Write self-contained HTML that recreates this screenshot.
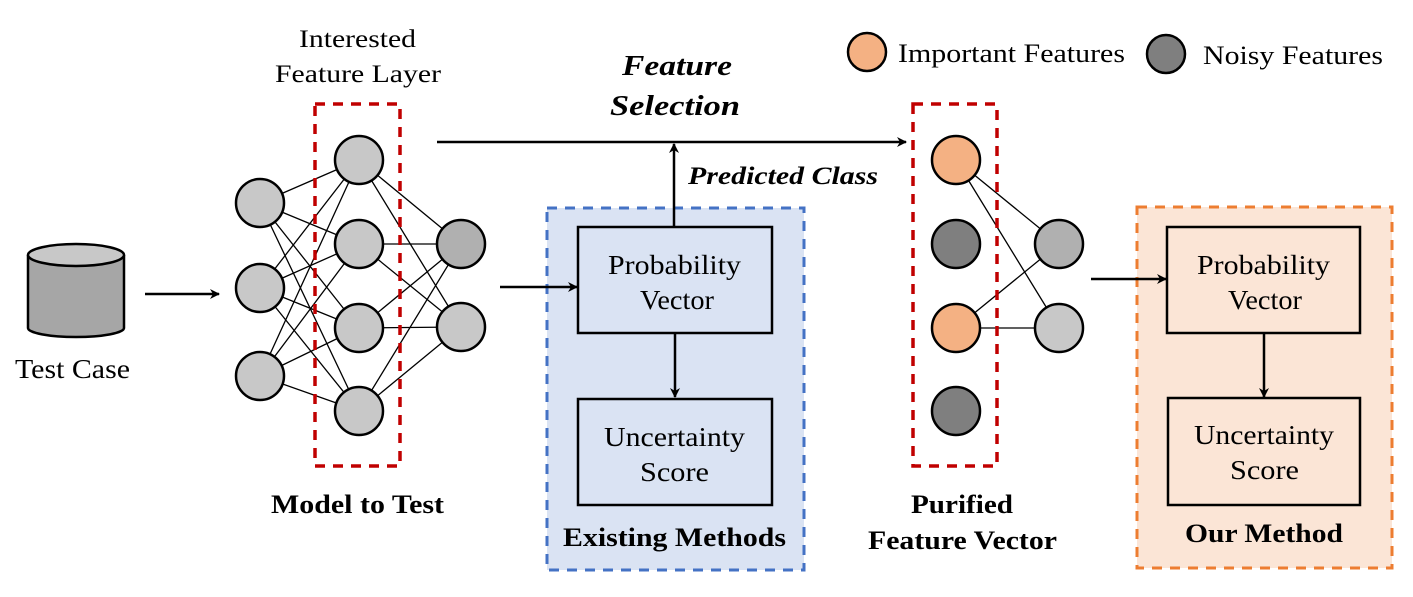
<!DOCTYPE html>
<html><head><meta charset="utf-8"><style>
html,body{margin:0;padding:0;background:#fff;}
svg{display:block;}
text{font-family:"Liberation Serif",serif;fill:#000;}
</style></head><body>
<svg width="1413" height="597" viewBox="0 0 1413 597" xmlns="http://www.w3.org/2000/svg">
<defs>
<marker id="ah" viewBox="0 0 10 10" refX="9" refY="5" markerWidth="10" markerHeight="10" markerUnits="userSpaceOnUse" orient="auto">
<path d="M0,0 L10,5 L0,10 L3,5 Z" fill="#000"/></marker>
</defs>
<!-- cylinder -->
<path d="M28,255 L28,328 A48,9 0 0 0 124,328 L124,255" fill="#a6a6a6" stroke="#000" stroke-width="2.5"/>
<ellipse cx="76" cy="255" rx="48" ry="11" fill="#c8c8c8" stroke="#000" stroke-width="2.5"/>
<text x="15" y="378" font-size="27" textLength="115" lengthAdjust="spacingAndGlyphs">Test Case</text>
<line x1="145" y1="294" x2="219" y2="294" stroke="#000" stroke-width="2.5" marker-end="url(#ah)"/>

<!-- network lines -->
<g stroke="#000" stroke-width="1.3">
<line x1="260" y1="203" x2="359" y2="160"/><line x1="260" y1="203" x2="359" y2="244"/><line x1="260" y1="203" x2="359" y2="328"/><line x1="260" y1="203" x2="359" y2="411"/>
<line x1="260" y1="288" x2="359" y2="160"/><line x1="260" y1="288" x2="359" y2="244"/><line x1="260" y1="288" x2="359" y2="328"/><line x1="260" y1="288" x2="359" y2="411"/>
<line x1="260" y1="376" x2="359" y2="160"/><line x1="260" y1="376" x2="359" y2="244"/><line x1="260" y1="376" x2="359" y2="328"/><line x1="260" y1="376" x2="359" y2="411"/>
<line x1="359" y1="160" x2="461" y2="244"/><line x1="359" y1="160" x2="461" y2="327"/>
<line x1="359" y1="244" x2="461" y2="244"/><line x1="359" y1="244" x2="461" y2="327"/>
<line x1="359" y1="328" x2="461" y2="244"/><line x1="359" y1="328" x2="461" y2="327"/>
<line x1="359" y1="411" x2="461" y2="244"/><line x1="359" y1="411" x2="461" y2="327"/>
</g>
<rect x="315" y="104" width="85" height="362" fill="none" stroke="#c00000" stroke-width="3.5" stroke-dasharray="10,8"/>
<g stroke="#000" stroke-width="2.5" fill="#c8c8c8">
<circle cx="260" cy="203" r="24"/><circle cx="260" cy="288" r="24"/><circle cx="260" cy="376" r="24"/>
<circle cx="359" cy="160" r="24"/><circle cx="359" cy="244" r="24"/><circle cx="359" cy="328" r="24"/><circle cx="359" cy="411" r="24"/>
<circle cx="461" cy="244" r="24" fill="#b0b0b0"/><circle cx="461" cy="327" r="24"/>
</g>
<text x="299" y="47" font-size="25" textLength="117" lengthAdjust="spacingAndGlyphs">Interested</text>
<text x="275" y="82" font-size="25" textLength="166" lengthAdjust="spacingAndGlyphs">Feature Layer</text>
<text x="271" y="513" font-size="26" font-weight="bold" textLength="173" lengthAdjust="spacingAndGlyphs">Model to Test</text>

<!-- top arrow -->
<line x1="437" y1="142" x2="906" y2="142" stroke="#000" stroke-width="2.5" marker-end="url(#ah)"/>
<text x="622" y="75" font-size="29" font-weight="bold" font-style="italic" textLength="110" lengthAdjust="spacingAndGlyphs">Feature</text>
<text x="610" y="115" font-size="29" font-weight="bold" font-style="italic" textLength="130" lengthAdjust="spacingAndGlyphs">Selection</text>
<text x="688" y="184" font-size="25" font-weight="bold" font-style="italic" textLength="190" lengthAdjust="spacingAndGlyphs">Predicted Class</text>

<!-- existing methods -->
<rect x="547" y="208" width="257" height="362" fill="#dae3f3" stroke="#4472c4" stroke-width="3" stroke-dasharray="10,8"/>
<line x1="500" y1="287" x2="577" y2="287" stroke="#000" stroke-width="2.5" marker-end="url(#ah)"/>
<line x1="674" y1="227" x2="674" y2="144" stroke="#000" stroke-width="2.5" marker-end="url(#ah)"/>
<rect x="578" y="227" width="194" height="106" fill="#dae3f3" stroke="#000" stroke-width="2.5"/>
<text x="608" y="274" font-size="27" textLength="133" lengthAdjust="spacingAndGlyphs">Probability</text>
<text x="640" y="309" font-size="27" textLength="74" lengthAdjust="spacingAndGlyphs">Vector</text>
<line x1="675" y1="333" x2="675" y2="397" stroke="#000" stroke-width="2.5" marker-end="url(#ah)"/>
<rect x="578" y="399" width="194" height="106" fill="#dae3f3" stroke="#000" stroke-width="2.5"/>
<text x="604" y="446" font-size="27" textLength="141" lengthAdjust="spacingAndGlyphs">Uncertainty</text>
<text x="640" y="481" font-size="27" textLength="69" lengthAdjust="spacingAndGlyphs">Score</text>
<text x="563" y="546" font-size="26" font-weight="bold" textLength="223" lengthAdjust="spacingAndGlyphs">Existing Methods</text>

<!-- purified -->
<g stroke="#000" stroke-width="1.3">
<line x1="956" y1="160" x2="1059" y2="244"/><line x1="956" y1="160" x2="1059" y2="328"/>
<line x1="956" y1="328" x2="1059" y2="244"/><line x1="956" y1="328" x2="1059" y2="328"/>
</g>
<rect x="913" y="104" width="84" height="362" fill="none" stroke="#c00000" stroke-width="3.5" stroke-dasharray="10,8"/>
<g stroke="#000" stroke-width="2.5">
<circle cx="956" cy="160" r="24" fill="#f4b183"/><circle cx="956" cy="244" r="24" fill="#7f7f7f"/>
<circle cx="956" cy="328" r="24" fill="#f4b183"/><circle cx="956" cy="411" r="24" fill="#7f7f7f"/>
<circle cx="1059" cy="244" r="24" fill="#b0b0b0"/><circle cx="1059" cy="328" r="24" fill="#c8c8c8"/>
</g>
<text x="911" y="513" font-size="26" font-weight="bold" textLength="102" lengthAdjust="spacingAndGlyphs">Purified</text>
<text x="868" y="549" font-size="26" font-weight="bold" textLength="189" lengthAdjust="spacingAndGlyphs">Feature Vector</text>

<!-- our method -->
<rect x="1137" y="207" width="255" height="361" fill="#fbe5d6" stroke="#ed7d31" stroke-width="3" stroke-dasharray="10,8"/>
<line x1="1091" y1="279" x2="1166" y2="279" stroke="#000" stroke-width="2.5" marker-end="url(#ah)"/>
<rect x="1167" y="227" width="193" height="106" fill="#fbe5d6" stroke="#000" stroke-width="2.5"/>
<text x="1197" y="274" font-size="27" textLength="133" lengthAdjust="spacingAndGlyphs">Probability</text>
<text x="1228" y="309" font-size="27" textLength="74" lengthAdjust="spacingAndGlyphs">Vector</text>
<line x1="1264" y1="333" x2="1264" y2="397" stroke="#000" stroke-width="2.5" marker-end="url(#ah)"/>
<rect x="1168" y="398" width="192" height="107" fill="#fbe5d6" stroke="#000" stroke-width="2.5"/>
<text x="1194" y="444" font-size="27" textLength="140" lengthAdjust="spacingAndGlyphs">Uncertainty</text>
<text x="1230" y="479" font-size="27" textLength="69" lengthAdjust="spacingAndGlyphs">Score</text>
<text x="1185" y="542" font-size="26" font-weight="bold" textLength="158" lengthAdjust="spacingAndGlyphs">Our Method</text>

<!-- legend -->
<circle cx="867" cy="52" r="19" fill="#f4b183" stroke="#000" stroke-width="2.5"/>
<text x="898" y="62" font-size="26" textLength="227" lengthAdjust="spacingAndGlyphs">Important Features</text>
<circle cx="1166" cy="54" r="19" fill="#7f7f7f" stroke="#000" stroke-width="2.5"/>
<text x="1203" y="64" font-size="26" textLength="180" lengthAdjust="spacingAndGlyphs">Noisy Features</text>
</svg>
</body></html>
